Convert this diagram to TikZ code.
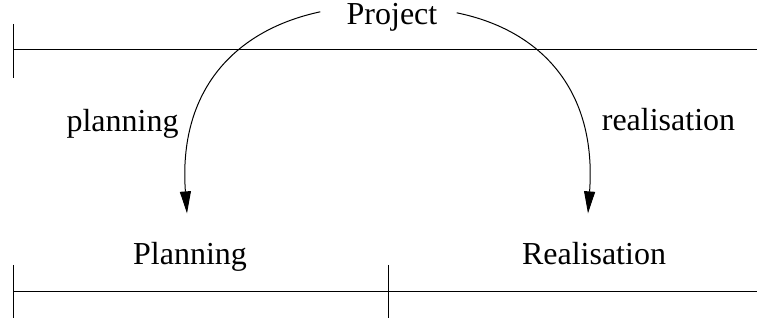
\documentclass[tikz,border=0pt]{standalone}
\usepackage{fontspec}
\setmainfont{Liberation Serif}
\usetikzlibrary{positioning,arrows.meta}

\begin{document}
\begin{tikzpicture}[
  x=0.5pt, y=-0.5pt,
  lbl/.style={inner sep=0pt, anchor=base, font=\fontsize{16}{19}\selectfont},
  phase/.style={lbl, inner sep=5pt},
  arr/.style={-{Triangle[length=11pt, width=5.5pt]}, line width=0.5pt},
  bar/.style={line width=0.5pt},
]
\useasboundingbox (0,0) rectangle (757,336);

% time axes
\coordinate (top0) at (13,50);
\coordinate (topE) at (757,50);
\coordinate (bot0) at (13,292);
\coordinate (botM) at (388,292);
\coordinate (botE) at (757,292);
\draw[bar] (top0) -- (topE);
\draw[bar] ([yshift=13pt]top0) -- ([yshift=-14pt]top0);
\draw[bar] (bot0) -- (botE);
\foreach \t in {bot0,botM} {\draw[bar] ([yshift=13.5pt]\t) -- ([yshift=-13pt]\t);}

% labels
\node[lbl, inner xsep=13pt, inner ysep=3pt] (project) at (392,25) {Project};
\node[phase] (planning) at (190,265) {Planning};
\node[phase] (realisation) at (594,265) {Realisation};
\node[lbl] (plab) at (122.5,132) {planning};
\node[lbl] (rlab) at (668.5,131) {realisation};

% where the arrows stop
\coordinate (planIn) at ([xshift=-1.5pt,yshift=9.5pt]planning.north);
\coordinate (realIn) at ([xshift=-3pt,yshift=9.5pt]realisation.north);

% arcs
\draw[arr] ([yshift=3pt]project.west) .. controls (235,30) and (178,90) .. (planIn);
\draw[arr] ([xshift=-3.5pt,yshift=2.5pt]project.east) .. controls (541,30) and (597,90) .. (realIn);
\end{tikzpicture}
\end{document}
